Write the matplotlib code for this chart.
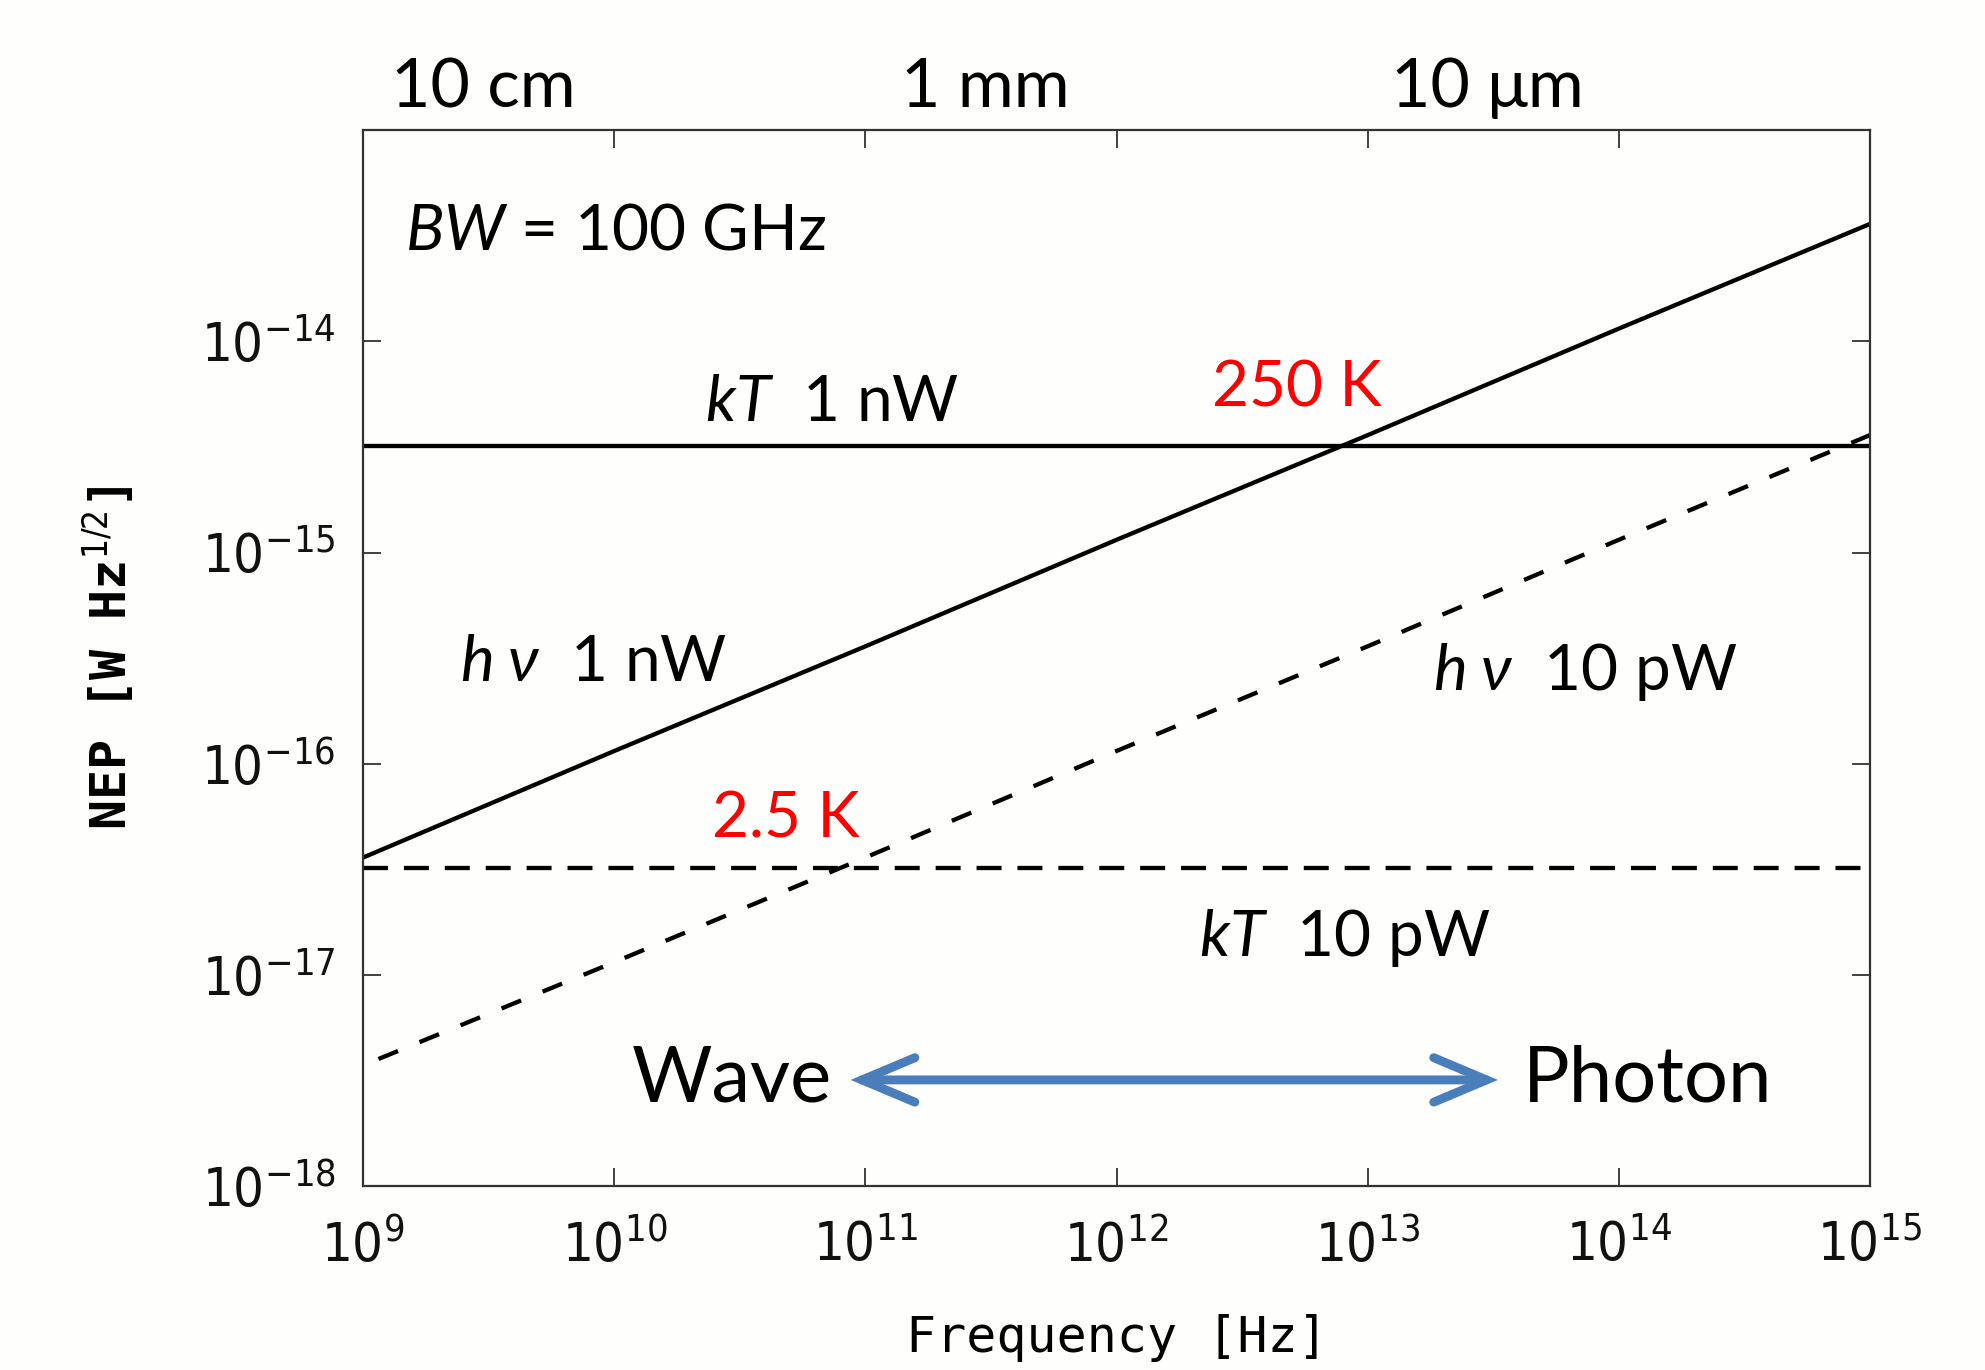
import matplotlib
matplotlib.use('Agg')
import numpy as np
import matplotlib.pyplot as plt
from matplotlib import font_manager
from matplotlib.ticker import NullLocator

# Data
freq = [1e9, 1e10, 1e11, 1e12, 1e13, 1e14, 1e15]
hv_1nw = [3.6e-17, 1.15e-16, 3.6e-16, 1.15e-15, 3.6e-15, 1.15e-14, 3.6e-14]
freq_10pw = [1.15e9, 1e10, 1e11, 1e12, 1e13, 1e14, 1e15]
hv_10pw = [4.0e-18, 1.15e-17, 3.6e-17, 1.15e-16, 3.6e-16, 1.15e-15, 3.6e-15]
kt_freq = [1e9, 1e15]
kt_1nw = [3.2e-15, 3.2e-15]
kt_10pw = [3.2e-17, 3.2e-17]

# tick positions / labels
x_ticks = [1e9, 1e10, 1e11, 1e12, 1e13, 1e14, 1e15]
x_labels = [r'$\mathrm{10^{%s}}$' % e for e in ['9', '10', '11', '12', '13', '14', '15']]
y_ticks = [1e-18, 1e-17, 1e-16, 1e-15, 1e-14]
y_labels = [r'$\mathrm{10^{%s}}$' % e for e in ['-18', '-17', '-16', '-15', '-14']]

# wavelength labels on the top axis (metres)
wl_ticks = [1e-1, 1e-3, 1e-5]
wl_labels = ['10 cm', '1 mm', '10 μm']
c_light = 3e8

# Fonts: narrow sans for the tick labels if there is one
fonts = font_manager.fontManager.ttflist
if any(f.name == 'DejaVu Sans' and f.stretch == 'condensed' for f in fonts):
    narrow = 'DejaVu Sans:stretch=condensed'
else:
    narrow = 'Liberation Sans'
plt.rcParams['mathtext.fontset'] = 'custom'
plt.rcParams['mathtext.rm'] = narrow
plt.rcParams['mathtext.it'] = 'Lato:italic'
plt.rcParams['mathtext.bf'] = 'Lato:bold'
ann_font = ['Lato', 'DejaVu Sans']
label_font = ['DejaVu Sans Mono']


def to_wl(f):
    return c_light / np.clip(f, 1e-300, None)


bg = '#fefefc'
fig = plt.figure(figsize=(19.85, 13.70), dpi=100)
fig.patch.set_facecolor(bg)
ax = fig.add_axes([0.1830, 0.1342, 0.7590, 0.7707])
ax.set_facecolor(bg)

lw = 3.1
ax.plot(kt_freq, kt_1nw, color='black', lw=lw)
ax.plot(freq, hv_1nw, color='black', lw=lw)
ax.plot(kt_freq, kt_10pw, color='black', lw=lw, linestyle=(0, (5.8, 3.7)))
ax.plot(freq_10pw, hv_10pw, color='black', lw=lw, linestyle=(0, (4.9, 5.4)))

ax.set_xscale('log')
ax.set_yscale('log')
ax.set_xlim(1e9, 1e15)
ax.set_ylim(1e-18, 1e-13)
ax.set_xticks(x_ticks, x_labels, fontsize=39, color='#111111')
ax.set_yticks(y_ticks, y_labels, fontsize=39, color='#111111')
ax.xaxis.set_minor_locator(NullLocator())
ax.yaxis.set_minor_locator(NullLocator())
ax.tick_params(which='major', direction='in', length=13, width=1.3,
               top=True, right=True, color='#333333')
ax.tick_params(axis='x', pad=24)
ax.tick_params(axis='y', pad=20)

for s in ax.spines.values():
    s.set_linewidth(1.6)
    s.set_color('#333333')

# wavelength axis on top
sec = ax.secondary_xaxis('top', functions=(to_wl, to_wl))
sec.set_xticks(wl_ticks, wl_labels, fontfamily=ann_font, fontsize=49)
sec.xaxis.set_minor_locator(NullLocator())
sec.tick_params(length=0, pad=8)
sec.spines['top'].set_visible(False)

# axis labels
ax.set_xlabel('Frequency [Hz]', fontfamily=label_font, fontsize=36)
ax.set_ylabel(r'NEP [W Hz$^{\mathrm{1/2}}$]', fontfamily=label_font,
              fontsize=36, fontweight='bold')
ax.xaxis.set_label_coords(0.5, -0.121)
ax.yaxis.set_label_coords(-0.150, 0.5)

# annotations
ax.text(10**9.166, 10**-13.566, r'$BW$ = 100 GHz', fontsize=46,
        family=ann_font, va='baseline')
ax.text(10**10.361, 10**-14.379, r'$kT$  1 nW', fontsize=46,
        family=ann_font, va='baseline')
ax.text(10**12.379, 10**-14.309, '250 K', fontsize=46, color='#ff0000',
        family=ann_font, va='baseline')
ax.text(10**9.384, 10**-15.608, r'$h\;\nu$  1 nW', fontsize=46,
        family=ann_font, va='baseline')
ax.text(10**13.26, 10**-15.650, r'$h\;\nu$  10 pW', fontsize=46,
        family=ann_font, va='baseline')
ax.text(10**10.387, 10**-16.351, '2.5 K', fontsize=46, color='#ff0000',
        family=ann_font, va='baseline')
ax.text(10**12.328, 10**-16.910, r'$kT$  10 pW', fontsize=46,
        family=ann_font, va='baseline')
ax.text(10**10.070, 10**-17.597, 'Wave', fontsize=56,
        family=ann_font, va='baseline')
ax.text(10**13.618, 10**-17.597, 'Photon', fontsize=56,
        family=ann_font, va='baseline')

# Wave <-> Photon arrow
ax.annotate('', xy=(10**10.941, 10**-17.497), xytext=(10**13.519, 10**-17.497),
            arrowprops=dict(arrowstyle='<->,head_length=38,head_width=16',
                            mutation_scale=1, lw=6.4, color='#4a7ebb',
                            shrinkA=0, shrinkB=0, capstyle='round',
                            joinstyle='miter'))

fig.savefig('out.png', dpi=100, facecolor=bg)
